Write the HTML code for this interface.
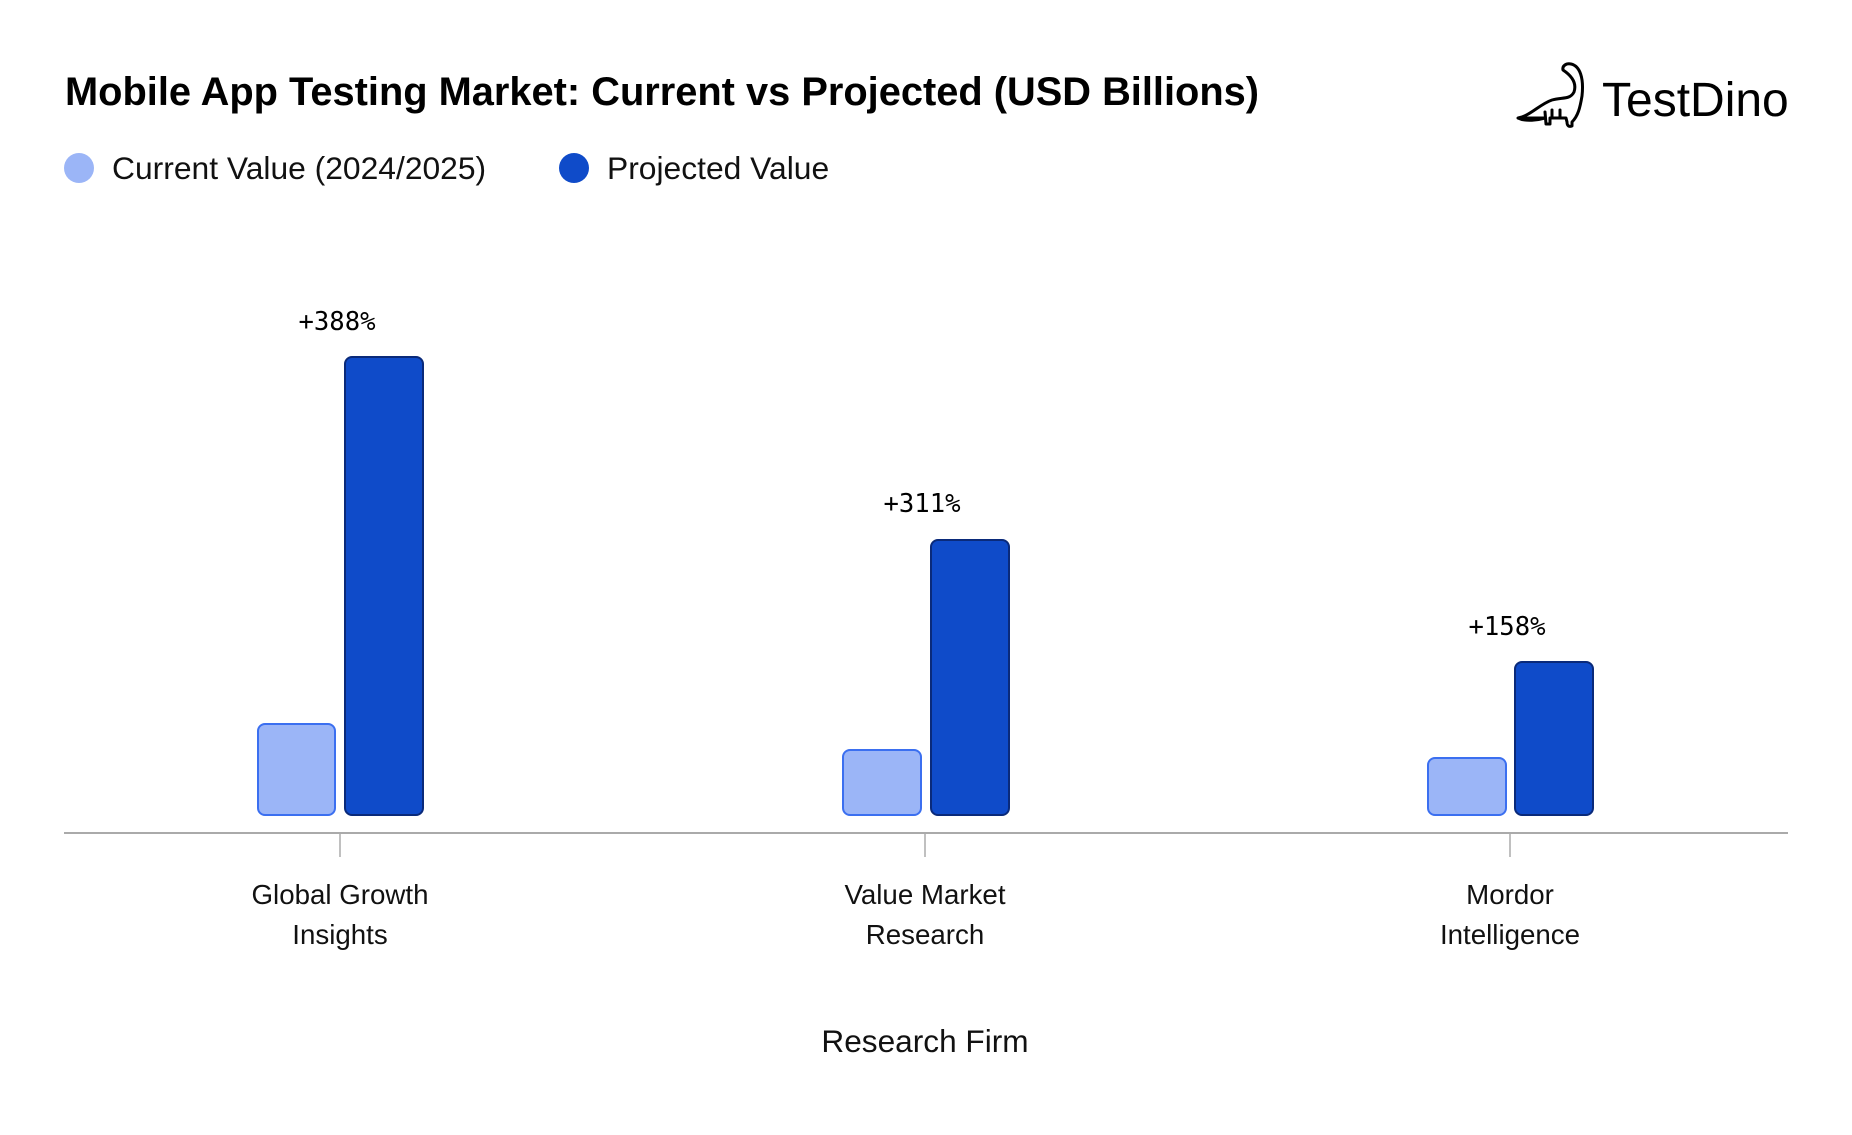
<!DOCTYPE html>
<html><head><meta charset="utf-8"><style>
html,body{margin:0;padding:0;background:#fff;}
body{width:1852px;height:1130px;overflow:hidden;}
</style></head><body>
<svg width="1852" height="1130" viewBox="0 0 1852 1130" xmlns="http://www.w3.org/2000/svg">
<rect width="1852" height="1130" fill="#fff"/>
<text x="65" y="105" font-family="Liberation Sans, sans-serif" font-weight="bold" font-size="39.8" fill="#000">Mobile App Testing Market: Current vs Projected (USD Billions)</text>
<circle cx="79" cy="168" r="15" fill="#9bb5f7"/>
<text x="112" y="179" font-family="Liberation Sans, sans-serif" font-size="31.8" fill="#111">Current Value (2024/2025)</text>
<circle cx="574" cy="168" r="15" fill="#0f4bc9"/>
<text x="607" y="179" font-family="Liberation Sans, sans-serif" font-size="31.8" fill="#111">Projected Value</text>
<!-- logo -->
<g fill="none" stroke="#000" stroke-width="3" stroke-linecap="round" stroke-linejoin="round">
<path d="M1518 118 C1530 116 1540 104 1552 100 C1562 97 1570 100 1574 92 C1578 80 1566 72 1563 70 C1562 66 1566 63 1571 64 C1580 66 1584 78 1582 96 C1580 108 1578 116 1572 122 L1572 126 C1569 127 1567 126 1567 122 L1566 118 L1550 118 L1550 124 L1546 124 L1545 112 M1545 118 C1538 120 1526 122 1518 118 Z"/>
<path d="M1552 110 L1552 118 M1560 110 L1560 118"/>
</g>
<text x="1602" y="116" font-family="Liberation Sans, sans-serif" font-size="48" fill="#000">TestDino</text>
<!-- bars -->
<g stroke-width="2">
<rect x="258" y="724" width="77" height="91" rx="7" fill="#9bb5f7" stroke="#3b6ff0"/>
<rect x="345" y="357" width="78" height="458" rx="7" fill="#0f4bc9" stroke="#0a2a7a"/>
<rect x="843" y="750" width="78" height="65" rx="7" fill="#9bb5f7" stroke="#3b6ff0"/>
<rect x="931" y="540" width="78" height="275" rx="7" fill="#0f4bc9" stroke="#0a2a7a"/>
<rect x="1428" y="758" width="78" height="57" rx="7" fill="#9bb5f7" stroke="#3b6ff0"/>
<rect x="1515" y="662" width="78" height="153" rx="7" fill="#0f4bc9" stroke="#0a2a7a"/>
</g>
<g font-family="DejaVu Sans Mono, monospace" font-size="25.6" fill="#000" text-anchor="middle">
<text x="337" y="330">+388%</text>
<text x="922" y="512">+311%</text>
<text x="1507" y="635">+158%</text>
</g>
<line x1="64" y1="833" x2="1788" y2="833" stroke="#aaa" stroke-width="2"/>
<g stroke="#aaa" stroke-width="1.5">
<line x1="340" y1="833" x2="340" y2="857"/>
<line x1="925" y1="833" x2="925" y2="857"/>
<line x1="1510" y1="833" x2="1510" y2="857"/>
</g>
<g font-family="Liberation Sans, sans-serif" font-size="27.7" fill="#111" text-anchor="middle">
<text x="340" y="904">Global Growth</text><text x="340" y="944">Insights</text>
<text x="925" y="904">Value Market</text><text x="925" y="944">Research</text>
<text x="1510" y="904">Mordor</text><text x="1510" y="944">Intelligence</text>
<text x="925" y="1052" font-size="31.6">Research Firm</text>
</g>
</svg>
</body></html>
